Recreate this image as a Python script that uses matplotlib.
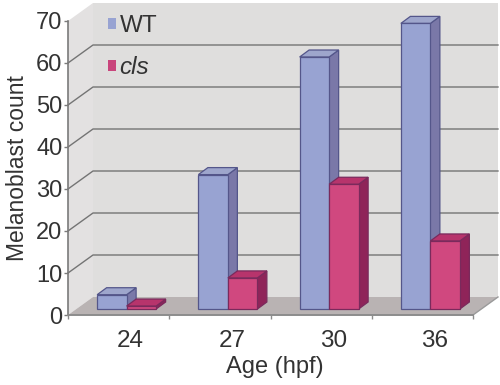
import matplotlib
matplotlib.use('Agg')
import matplotlib.pyplot as plt
from matplotlib.patches import Polygon, Patch

plt.rcParams['font.family'] = ['Liberation Sans', 'DejaVu Sans']

# Data
ages = ['24', '27', '30', '36']
wt = [3.4, 32, 60, 68]
cls = [0.7, 7.4, 29.7, 16.2]
yticks = [0, 10, 20, 30, 40, 50, 60, 70]

# Parameters
W, H = 500, 385
PX_X = 405 / 4    # pixels per category
PX_Y = 294 / 70   # pixels per count
DX = 25 / PX_X    # depth of the box, in data units
DY = 18 / PX_Y
BAR_W = 29.5 / PX_X

WT_COLS = ('#98a3d2', '#9ea6cc', '#7a78a8')
CLS_COLS = ('#d0487f', '#b7346c', '#8f2459')
EDGE_WT = '#54568a'
EDGE_CLS = '#7a2a5c'

fig = plt.figure(figsize=(W / 100, H / 100), dpi=100, facecolor='white')
ax = fig.add_axes([68 / W, 70 / H, 405 / W, 294 / H])
ax.set_xlim(0, 4)
ax.set_ylim(0, 70)
ax.patch.set_visible(False)


def poly(points, face, edge='none', lw=0.0, z=1):
    ax.add_patch(Polygon(points, closed=True, facecolor=face, edgecolor=edge,
                         linewidth=lw, clip_on=False, zorder=z))


# Walls and floor
poly([(0, 0), (0, 70), (DX, 70 + DY), (DX, DY)], '#e3e1e1')
poly([(DX, DY), (DX, 70 + DY), (4 + DX, 70 + DY), (4 + DX, DY)], '#dfdedd')
poly([(0, 0), (4, 0), (4 + DX, DY), (DX, DY)], '#b9b3b3')

for v in yticks[1:-1]:
    ax.plot([0, DX, 4 + DX], [v, v + DY, v + DY], color='#747474', lw=1.0,
            clip_on=False, zorder=1.5)
ax.plot([4, 4 + DX], [0, DY], color='#9a9a9a', lw=1, clip_on=False, zorder=1.5)


def draw_bars(xs, vals, cols, edge, z):
    # bars sit a little way into the box
    dx0 = 8 / PX_X
    dy0 = 6 / PX_Y
    dx = 9.5 / PX_X
    dy = 7 / PX_Y
    base = dy0
    for x, v in zip(xs, vals):
        left = x + dx0
        right = left + BAR_W
        top = base + v
        poly([(right, base), (right + dx, base + dy), (right + dx, top + dy), (right, top)],
             cols[2], edge, 0.9, z)
        poly([(left, top), (right, top), (right + dx, top + dy), (left + dx, top + dy)],
             cols[1], edge, 0.9, z)
    ax.bar([x + dx0 for x in xs], vals, width=BAR_W, bottom=base, align='edge',
           color=cols[0], edgecolor=edge, linewidth=0.9, clip_on=False, zorder=z)


centers = [i + 0.5 for i in range(len(ages))]
for i in range(len(ages)):
    # back to front, left to right, so the cls box covers the WT side
    draw_bars([centers[i] - BAR_W], [wt[i]], WT_COLS, EDGE_WT, 3 + i * 0.1)
    draw_bars([centers[i]], [cls[i]], CLS_COLS, EDGE_CLS, 3.05 + i * 0.1)

# Axes
for side in ['top', 'right']:
    ax.spines[side].set_visible(False)
ax.spines['left'].set_color('#7a7a7a')
ax.spines['bottom'].set_color('#8c8c8c')
ax.spines['left'].set_linewidth(1.2)
ax.spines['bottom'].set_linewidth(1.4)
ax.spines['left'].set_zorder(2)
ax.spines['bottom'].set_zorder(2)

ax.set_yticks(yticks)
# labels in the reference sit right of the category centres
ax.set_xticks([c + 12 / PX_X for c in centers])
ax.set_xticklabels(ages)
ax.set_xticks([0, 1, 2, 3, 4], minor=True)
ax.tick_params(axis='x', which='major', length=0, labelsize=17.5, pad=10.5, labelcolor='#333333')
ax.tick_params(axis='x', which='minor', length=3, color='#8c8c8c', width=1)
ax.tick_params(axis='y', length=3, color='#7a7a7a', width=1, labelsize=17, pad=1,
               labelcolor='#333333')

ax.set_xlabel('Age (hpf)', fontsize=17, color='#333333')
ax.xaxis.set_label_coords(207 / 405, -52 / 294)
ax.xaxis.label.set_verticalalignment('center')
ax.set_ylabel('Melanoblast count', fontsize=16.5, color='#333333')
ax.yaxis.set_label_coords(-62 / 405, (315 - 168) / 294)
ax.yaxis.label.set_verticalalignment('top')

# Legend
handles = [Patch(facecolor=WT_COLS[0], edgecolor='none', label='WT'),
           Patch(facecolor='#c9457c', edgecolor='none', label='cls')]
leg = ax.legend(handles=handles, frameon=False, loc='upper left',
                bbox_to_anchor=(40 / 405, 1.02), fontsize=17.5, handlelength=0.33,
                handleheight=0.33, handletextpad=0.15, labelspacing=0.78, borderaxespad=0,
                borderpad=0)
leg.set_zorder(5)
for t in leg.get_texts():
    t.set_color('#333333')
leg.get_texts()[1].set_fontstyle('italic')

fig.savefig('out.png', dpi=100)
